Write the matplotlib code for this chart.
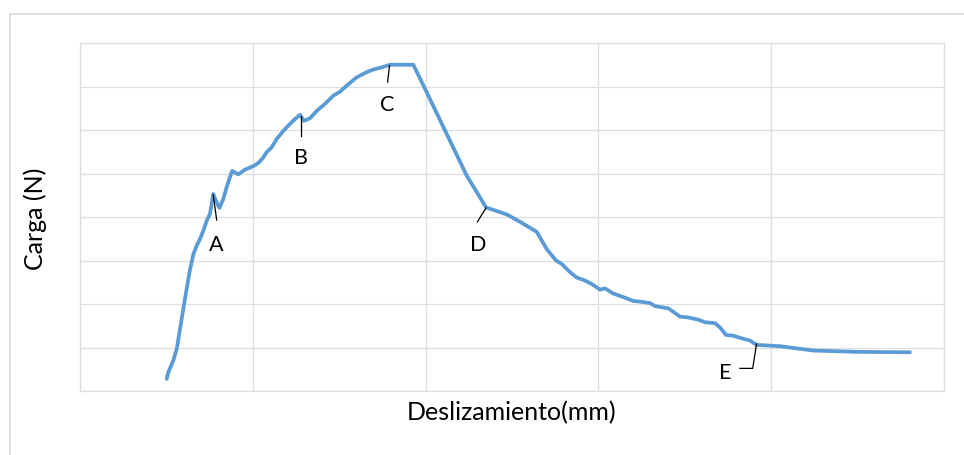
import matplotlib
matplotlib.use("Agg")
import matplotlib.pyplot as plt
from matplotlib.patches import Rectangle

plt.rcParams['font.family'] = ['Lato', 'DejaVu Sans']

# slip (mm) and load (N, arbitrary units)
desliz = [5.02, 5.11, 5.40, 5.60, 5.79, 5.98, 6.17, 6.37, 6.56, 6.75,
          6.94, 7.14, 7.33, 7.52, 7.71, 7.87, 8.07, 8.29, 8.49, 8.68,
          8.81, 9.16, 9.55, 10.03, 10.32, 10.61, 10.80, 11.09, 11.38, 11.77,
          12.15, 12.44, 12.73, 12.96, 13.31, 13.70, 14.18, 14.66, 15.05, 15.43,
          16.01, 16.59, 16.97, 17.46, 17.94, 19.29, 20.06, 21.22, 22.38, 23.50,
          24.69, 25.46, 26.43, 27.01, 27.55, 27.88, 28.36, 28.74, 29.22, 29.61,
          30.09, 30.38, 30.86, 31.44, 32.02, 32.51, 32.99, 33.28, 34.05, 34.33,
          34.72, 35.20, 35.78, 36.17, 36.75, 37.04, 37.38, 37.81, 38.39, 38.77,
          39.16, 40.51, 42.44, 44.95, 48.03]
carga = [0.28, 0.43, 0.70, 0.97, 1.43, 1.89, 2.34, 2.80, 3.14, 3.34,
         3.49, 3.69, 3.91, 4.07, 4.53, 4.37, 4.21, 4.41, 4.69, 4.92,
         5.06, 4.98, 5.09, 5.17, 5.24, 5.37, 5.49, 5.60, 5.79, 5.98,
         6.14, 6.25, 6.35, 6.21, 6.27, 6.44, 6.60, 6.79, 6.88, 7.02,
         7.21, 7.33, 7.39, 7.44, 7.50, 7.50, 6.87, 5.91, 4.95, 4.22,
         4.06, 3.89, 3.66, 3.26, 3.00, 2.92, 2.73, 2.61, 2.54, 2.46,
         2.33, 2.36, 2.24, 2.16, 2.07, 2.05, 2.02, 1.95, 1.90, 1.82,
         1.71, 1.69, 1.64, 1.58, 1.56, 1.46, 1.29, 1.27, 1.20, 1.16,
         1.06, 1.03, 0.93, 0.90, 0.89]

# point labels: leader line (from curve to label) and text position
etiquetas = ['A', 'B', 'C', 'D']
guia_x0 = [7.71, 12.79, 17.91, 23.50]
guia_y0 = [4.51, 6.32, 7.48, 4.21]
guia_x1 = [7.91, 12.79, 17.80, 23.00]
guia_y1 = [3.93, 5.86, 7.10, 3.89]
texto_x = [7.87, 12.79, 17.80, 23.03]
texto_y = [3.38, 5.38, 6.60, 3.38]
# E has an elbow leader
e_guia_x = [39.15, 38.93, 38.19]
e_guia_y = [1.08, 0.52, 0.52]
e_texto = (37.33, 0.44)

fig = plt.figure(figsize=(9.64, 4.56), dpi=100)
fig.patches.append(Rectangle((9.5 / 964, -0.1), 1.1, 1.1 - 14.5 / 456,
                             transform=fig.transFigure, fill=False,
                             edgecolor='#d9d9d9', linewidth=1.2))

ax = fig.add_axes([80 / 964, 1 - 392 / 456, 864 / 964, 348 / 456])
ax.plot(desliz, carga, color='#5b9bd5', linewidth=2.7, solid_capstyle='round',
        solid_joinstyle='round')

for lab, x0, y0, x1, y1, tx, ty in zip(etiquetas, guia_x0, guia_y0, guia_x1,
                                       guia_y1, texto_x, texto_y):
    ax.plot([x0, x1], [y0, y1], color='black', linewidth=0.9)
    ax.text(tx, ty, lab, fontsize=15.5, ha='center', va='center')
ax.plot(e_guia_x, e_guia_y, color='black', linewidth=0.9)
ax.text(e_texto[0], e_texto[1], 'E', fontsize=15.5, ha='center', va='center')

ax.set_xlim(0, 50)
ax.set_ylim(0, 8)
ax.set_xticks(range(0, 51, 10))
ax.set_yticks(range(0, 9))
ax.tick_params(length=0, labelbottom=False, labelleft=False)
ax.grid(True, color='#dedede', linewidth=0.9)
for s in ax.spines.values():
    s.set_color('#dedede')
    s.set_linewidth(0.9)

fig.text(512 / 964, 1 - 413 / 456, 'Deslizamiento(mm)', fontsize=18,
         ha='center', va='center')
fig.text(35 / 964, 1 - 219 / 456, 'Carga (N)', fontsize=18, rotation=90,
         ha='center', va='center')

fig.savefig('out.png', dpi=100)
